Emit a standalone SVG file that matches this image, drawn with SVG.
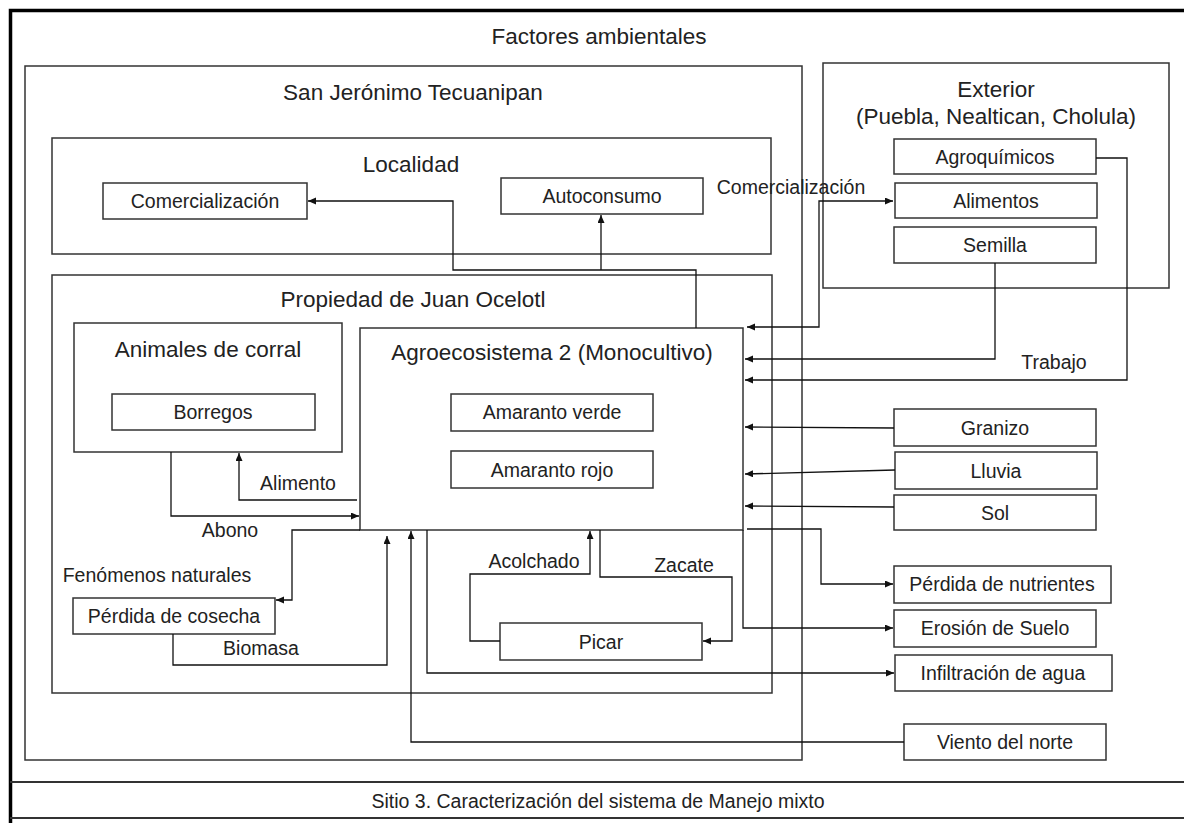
<svg xmlns="http://www.w3.org/2000/svg" width="1184" height="823" viewBox="0 0 1184 823">
<style>
.box{fill:none;stroke:#333;stroke-width:1.5}
.c{fill:none;stroke:#111;stroke-width:1.3}
.a{marker-end:url(#ah)}
text{font-family:"Liberation Sans",Arial,sans-serif;fill:#222;text-anchor:middle;dominant-baseline:central}
.t{font-size:22.5px}
.l{font-size:19.5px}
</style>
<defs>
<marker id="ah" markerUnits="userSpaceOnUse" markerWidth="9" markerHeight="8" refX="8" refY="3.5" orient="auto-start-reverse"><path d="M0,0 L8,3.5 L0,7 z" fill="#111"/></marker>
</defs>
<rect width="1184" height="823" fill="#fff"/>
<g id="frame">
<path d="M10.5,823 V10.5 H1184" fill="none" stroke="#000" stroke-width="3.5"/>
<path d="M10,782 H1184 M10,818 H1184" fill="none" stroke="#333" stroke-width="1.8"/>
<text class="t" x="599" y="36">Factores ambientales</text>
<text class="l" x="598" y="801">Sitio 3. Caracterización del sistema de Manejo mixto</text>
</g>
<g id="sanjeronimo"><rect class="box" x="25" y="66" width="777" height="694"/><text class="t" x="413" y="92">San Jerónimo Tecuanipan</text></g>
<g id="localidad"><rect class="box" x="52" y="138" width="719" height="116"/><text class="t" x="411" y="164">Localidad</text></g>
<g id="comercializacion"><rect class="box" x="103" y="183" width="204" height="36"/><text class="l" x="205" y="201">Comercialización</text></g>
<g id="autoconsumo"><rect class="box" x="501" y="178" width="202" height="36"/><text class="l" x="602" y="196">Autoconsumo</text></g>
<g id="exterior"><rect class="box" x="823" y="63" width="346" height="225"/><text class="t" x="996" y="89">Exterior</text><text class="t" x="996" y="116">(Puebla, Nealtican, Cholula)</text></g>
<g id="agroquimicos"><rect class="box" x="894" y="139" width="202" height="35"/><text class="l" x="995" y="157">Agroquímicos</text></g>
<g id="alimentos"><rect class="box" x="895" y="183" width="202" height="35"/><text class="l" x="996" y="201">Alimentos</text></g>
<g id="semilla"><rect class="box" x="894" y="227" width="202" height="36"/><text class="l" x="995" y="245">Semilla</text></g>
<g id="propiedad"><rect class="box" x="52" y="275" width="720" height="418"/><text class="t" x="413" y="299">Propiedad de Juan Ocelotl</text></g>
<g id="animales"><rect class="box" x="74" y="323" width="268" height="129"/><text class="t" x="208" y="349">Animales de corral</text></g>
<g id="borregos"><rect class="box" x="112" y="394" width="203" height="36"/><text class="l" x="213" y="412">Borregos</text></g>
<g id="agro"><rect class="box" x="360" y="328" width="383" height="202"/><text class="t" x="552" y="352">Agroecosistema 2 (Monocultivo)</text></g>
<g id="amaranto-verde"><rect class="box" x="451" y="394" width="202" height="37"/><text class="l" x="552" y="412">Amaranto verde</text></g>
<g id="amaranto-rojo"><rect class="box" x="451" y="451" width="202" height="37"/><text class="l" x="552" y="470">Amaranto rojo</text></g>
<g id="perdida-cosecha"><rect class="box" x="73" y="598" width="202" height="36"/><text class="l" x="174" y="616">Pérdida de cosecha</text></g>
<g id="picar"><rect class="box" x="500" y="623" width="202" height="37"/><text class="l" x="601" y="642">Picar</text></g>
<g id="granizo"><rect class="box" x="894" y="409" width="202" height="37"/><text class="l" x="995" y="428">Granizo</text></g>
<g id="lluvia"><rect class="box" x="895" y="452" width="202" height="37"/><text class="l" x="996" y="471">Lluvia</text></g>
<g id="sol"><rect class="box" x="894" y="495" width="202" height="35"/><text class="l" x="995" y="513">Sol</text></g>
<g id="perdida-nutrientes"><rect class="box" x="894" y="566" width="217" height="37"/><text class="l" x="1002" y="584">Pérdida de nutrientes</text></g>
<g id="erosion"><rect class="box" x="894" y="610" width="202" height="37"/><text class="l" x="995" y="628">Erosión de Suelo</text></g>
<g id="infiltracion"><rect class="box" x="895" y="655" width="217" height="36"/><text class="l" x="1003" y="673">Infiltración de agua</text></g>
<g id="viento"><rect class="box" x="904" y="724" width="202" height="36"/><text class="l" x="1005" y="742">Viento del norte</text></g>
<g id="connectors">
<path class="c a" d="M696,328 V270 H453 V201 H308"/>
<path class="c a" d="M601,270 V215"/>
<path class="c a" d="M747,327 H819 V201 H893" style="marker-start:url(#ah)"/>
<path class="c a" d="M995,263 V359 H745"/>
<path class="c a" d="M1096,158 H1127 V380 H745"/>
<path class="c a" d="M894,428 L745,427"/>
<path class="c a" d="M895,470 L745,474"/>
<path class="c a" d="M894,507 L745,506"/>
<path class="c a" d="M747,529 H821 V584 H893"/>
<path class="c a" d="M743,530 V628 H893"/>
<path class="c a" d="M427,530 V673 H894"/>
<path class="c a" d="M904,742 H411 V531"/>
<path class="c a" d="M600,530 V577 H732 V641 H703"/>
<path class="c a" d="M500,641 H470 V574 H590 V531"/>
<path class="c a" d="M357,500 H239 V453"/>
<path class="c a" d="M171,452 V516 H359"/>
<path class="c a" d="M360,530 H292 V600 H276"/>
<path class="c a" d="M173,634 V665 H387 V536"/>
<text class="l" x="791" y="187">Comercialización</text>
<text class="l" x="1054" y="362">Trabajo</text>
<text class="l" x="298" y="483">Alimento</text>
<text class="l" x="230" y="530">Abono</text>
<text class="l" x="157" y="575">Fenómenos naturales</text>
<text class="l" x="261" y="648">Biomasa</text>
<text class="l" x="534" y="561">Acolchado</text>
<text class="l" x="684" y="565">Zacate</text>
</g>
</svg>
